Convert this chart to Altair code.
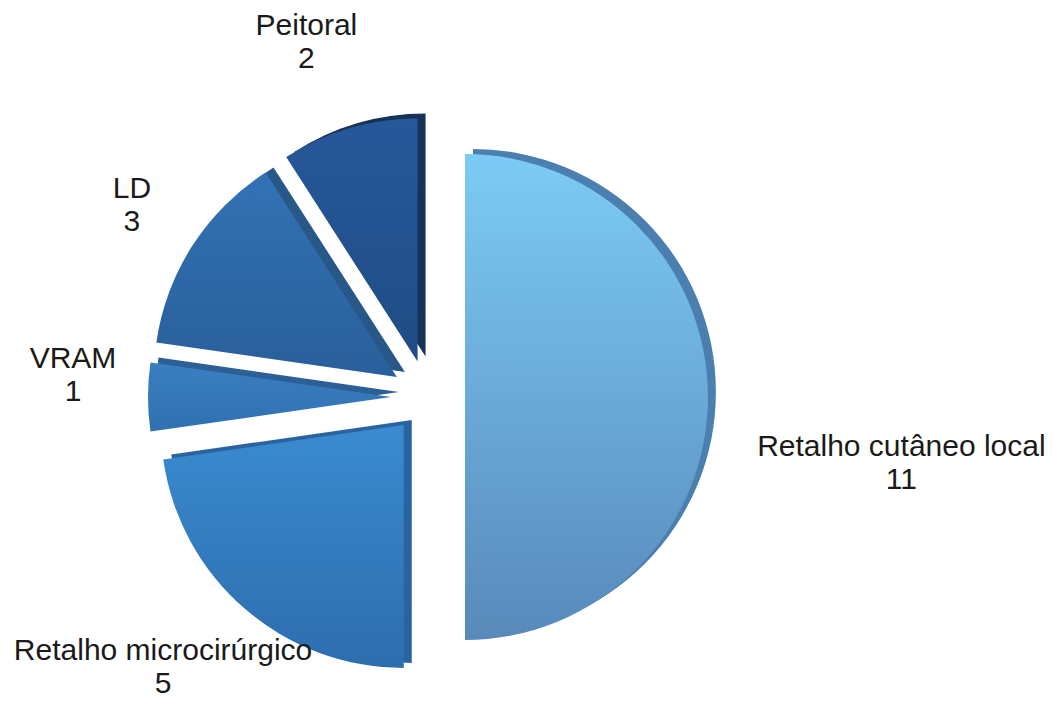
import altair as alt
import pandas as pd

# Reconstruction types and how many of each
categories = ["Retalho cutâneo local", "Retalho microcirúrgico", "VRAM", "LD", "Peitoral"]
counts = [11, 5, 1, 3, 2]

# Layout (pixels)
W, H = 1053, 702
CX, CY = 428, 397          # pie centre
R = 243                    # slice radius
EXPLODE = 37               # how far each slice is pulled out
DEPTH_DX, DEPTH_DY = 8, -5  # offset of the side wall under each slice
label_dist = [476, 367, 357, 362, 390]
label_turn = [6.0, 5.3, 6.1, 2.4, -1.8]   # degrees, nudges the label off the slice mid-line

# Styling
face_top = ["#7ccbf6", "#3a8bd0", "#3a7fc2", "#3272b4", "#26589a"]
face_bottom = ["#5889ba", "#2d6dad", "#3070b0", "#295f9a", "#1f4c84"]
wall_colors = ["#4a7fb0", "#2a64a0", "#2b5f96", "#285888", "#163256"]

df = pd.DataFrame({
    "cat": categories,
    "n": counts,
    "order": list(range(len(categories))),
    "ldist": label_dist,
    "lturn": label_turn,
})

base = (
    alt.Chart(df)
    .transform_joinaggregate(total="sum(n)")
    .transform_window(cum="sum(n)", sort=[alt.SortField("order")], frame=[None, 0])
    .transform_calculate(t0="2 * PI * (datum.cum - datum.n) / datum.total")
    .transform_calculate(t1="2 * PI * datum.cum / datum.total")
    .transform_calculate(mid="PI * (2 * datum.cum - datum.n) / datum.total")
    .transform_calculate(px=f"{CX} + {EXPLODE} * sin(datum.mid)")
    .transform_calculate(py=f"{CY} - {EXPLODE} * cos(datum.mid)")
)

arc_enc = dict(
    theta=alt.Theta("t0:Q", scale=None),
    theta2="t1:Q",
)

# Side walls: a darker copy of each slice, nudged right and up
walls = (
    base.transform_calculate(wx=f"datum.px + {DEPTH_DX}")
    .transform_calculate(wy=f"datum.py + {DEPTH_DY}")
    .mark_arc(radius=R)
    .encode(
        x=alt.X("wx:Q", scale=None, axis=None),
        y=alt.Y("wy:Q", scale=None, axis=None),
        color=alt.Color("cat:N", scale=alt.Scale(domain=categories, range=wall_colors), legend=None),
        **arc_enc,
    )
)

# Top faces, each with its own vertical shading
faces = []
for cat, top, bottom in zip(categories, face_top, face_bottom):
    faces.append(
        base.transform_filter(alt.datum.cat == cat)
        .mark_arc(
            radius=R,
            color=alt.Gradient(
                gradient="linear",
                stops=[alt.GradientStop(color=top, offset=0), alt.GradientStop(color=bottom, offset=1)],
                x1=0, x2=0, y1=0, y2=1,
            ),
        )
        .encode(
            x=alt.X("px:Q", scale=None, axis=None),
            y=alt.Y("py:Q", scale=None, axis=None),
            **arc_enc,
        )
    )

labels = (
    base.transform_calculate(lang="datum.mid + datum.lturn * PI / 180")
    .transform_calculate(lx=f"{CX} + datum.ldist * sin(datum.lang)")
    .transform_calculate(ly=f"{CY} - datum.ldist * cos(datum.lang)")
    .transform_calculate(label="datum.cat + '\\n' + datum.n")
    .mark_text(
        font="Liberation Sans",
        fontSize=30,
        lineHeight=33,
        lineBreak="\n",
        align="center",
        baseline="middle",
        color="#1a1a1a",
    )
    .encode(
        x=alt.X("lx:Q", scale=None, axis=None),
        y=alt.Y("ly:Q", scale=None, axis=None),
        text="label:N",
    )
)

chart = (
    alt.layer(walls, *faces, labels)
    .properties(width=W, height=H, autosize=alt.AutoSizeParams(type="none"), padding=0, background="white")
    .configure_view(stroke=None)
)

chart.save("out.html", embed_options={"renderer": "svg", "actions": False})
